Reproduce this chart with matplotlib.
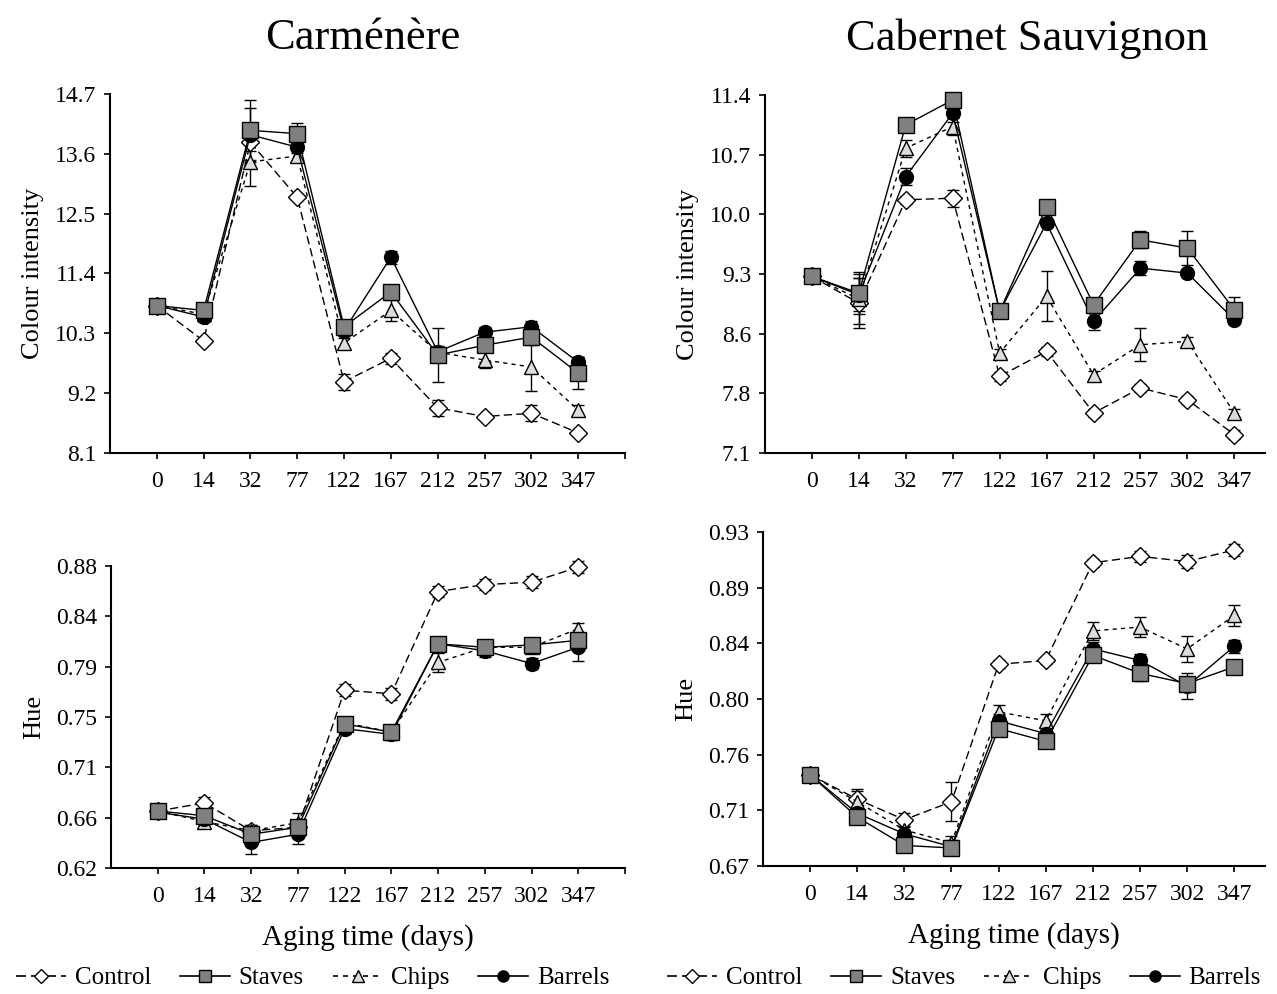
import matplotlib.pyplot as plt
from matplotlib.lines import Line2D
import numpy as np

plt.rcParams['font.family'] = ['Liberation Serif', 'DejaVu Serif']

days = ['0', '14', '32', '77', '122', '167', '212', '257', '302', '347']
series = ['Control', 'Staves', 'Chips', 'Barrels']

# Carmenere - colour intensity
ci_carm_control = [10.81, 10.16, 13.81, 12.80, 9.41, 9.84, 8.93, 8.77, 8.83, 8.47]
ci_carm_staves = [10.81, 10.72, 14.03, 13.97, 10.42, 11.06, 9.90, 10.08, 10.23, 9.57]
ci_carm_chips = [10.81, 10.65, 13.45, 13.56, 10.12, 10.72, 9.95, 9.81, 9.68, 8.89]
ci_carm_barrels = [10.81, 10.60, 13.95, 13.72, 10.35, 11.70, 9.96, 10.32, 10.42, 9.77]
ci_carm_control_err = [0.05, 0.05, 0.15, 0.05, 0.15, 0.10, 0.15, 0.05, 0.15, 0.05]
ci_carm_staves_err = [0.05, 0.10, 0.55, 0.20, 0.10, 0.10, 0.50, 0.30, 0.15, 0.30]
ci_carm_chips_err = [0.05, 0.10, 0.45, 0.10, 0.10, 0.20, 0.10, 0.15, 0.45, 0.10]
ci_carm_barrels_err = [0.05, 0.10, 0.50, 0.10, 0.10, 0.12, 0.10, 0.10, 0.10, 0.10]

# Cabernet Sauvignon - colour intensity
ci_cab_control = [9.22, 8.90, 10.14, 10.16, 8.02, 8.32, 7.58, 7.88, 7.74, 7.32]
ci_cab_staves = [9.22, 9.02, 11.04, 11.34, 8.80, 10.06, 8.88, 9.66, 9.56, 8.82]
ci_cab_chips = [9.22, 8.95, 10.76, 11.02, 8.30, 8.98, 8.04, 8.40, 8.44, 7.58]
ci_cab_barrels = [9.22, 9.00, 10.42, 11.18, 8.80, 9.86, 8.68, 9.32, 9.26, 8.70]
ci_cab_control_err = [0.03, 0.30, 0.05, 0.10, 0.05, 0.05, 0.05, 0.05, 0.05, 0.05]
ci_cab_staves_err = [0.03, 0.25, 0.05, 0.05, 0.05, 0.05, 0.05, 0.10, 0.20, 0.15]
ci_cab_chips_err = [0.03, 0.30, 0.10, 0.10, 0.05, 0.30, 0.05, 0.20, 0.05, 0.05]
ci_cab_barrels_err = [0.03, 0.20, 0.10, 0.10, 0.05, 0.05, 0.10, 0.08, 0.05, 0.05]

# Carmenere - hue
hue_carm_control = [0.669, 0.676, 0.652, 0.655, 0.773, 0.770, 0.858, 0.864, 0.866, 0.879]
hue_carm_staves = [0.669, 0.665, 0.649, 0.655, 0.744, 0.737, 0.813, 0.810, 0.812, 0.816]
hue_carm_chips = [0.669, 0.660, 0.652, 0.659, 0.745, 0.737, 0.797, 0.810, 0.810, 0.826]
hue_carm_barrels = [0.668, 0.662, 0.642, 0.649, 0.740, 0.735, 0.813, 0.807, 0.796, 0.810]
hue_carm_control_err = [0.003, 0.005, 0.005, 0.005, 0.005, 0.005, 0.005, 0.005, 0.005, 0.005]
hue_carm_staves_err = [0.003, 0.005, 0.005, 0.005, 0.005, 0.005, 0.005, 0.005, 0.005, 0.005]
hue_carm_chips_err = [0.003, 0.005, 0.005, 0.008, 0.005, 0.005, 0.008, 0.005, 0.005, 0.005]
hue_carm_barrels_err = [0.003, 0.006, 0.010, 0.008, 0.005, 0.005, 0.005, 0.005, 0.005, 0.012]

# Cabernet Sauvignon - hue
hue_cab_control = [0.741, 0.722, 0.706, 0.720, 0.827, 0.830, 0.906, 0.911, 0.907, 0.916]
hue_cab_staves = [0.741, 0.708, 0.686, 0.684, 0.777, 0.767, 0.834, 0.820, 0.812, 0.825]
hue_cab_chips = [0.741, 0.720, 0.698, 0.688, 0.790, 0.783, 0.853, 0.856, 0.839, 0.865]
hue_cab_barrels = [0.741, 0.711, 0.695, 0.685, 0.783, 0.773, 0.839, 0.830, 0.810, 0.841]
hue_cab_control_err = [0.003, 0.008, 0.005, 0.015, 0.003, 0.003, 0.003, 0.004, 0.005, 0.005]
hue_cab_staves_err = [0.003, 0.005, 0.005, 0.005, 0.005, 0.005, 0.005, 0.006, 0.005, 0.005]
hue_cab_chips_err = [0.003, 0.008, 0.005, 0.005, 0.005, 0.005, 0.007, 0.008, 0.010, 0.008]
hue_cab_barrels_err = [0.003, 0.005, 0.005, 0.005, 0.005, 0.005, 0.005, 0.005, 0.010, 0.005]

ci_carm_ticks = ['8.1', '9.2', '10.3', '11.4', '12.5', '13.6', '14.7']
ci_cab_ticks = ['7.1', '7.8', '8.6', '9.3', '10.0', '10.7', '11.4']
hue_carm_ticks = ['0.62', '0.66', '0.71', '0.75', '0.79', '0.84', '0.88']
hue_cab_ticks = ['0.67', '0.71', '0.76', '0.80', '0.84', '0.89', '0.93']

styles = {
    'Control': dict(marker='D', mfc='white', ls=(0, (6, 3)), ms=9),
    'Chips': dict(marker='^', mfc='#dcdcdc', ls=(0, (3, 3)), ms=10),
    'Barrels': dict(marker='o', mfc='black', ls='-', ms=10),
    'Staves': dict(marker='s', mfc='#808080', ls='-', ms=11),
}
draw_order = ['Control', 'Chips', 'Barrels', 'Staves']


def draw_panel(ax, data, errs, ticks, title=None, title_x=0.5, ylabel=None,
               xlabel=None, xmax=10, end_tick=True):
    x = np.arange(len(days))
    for name in draw_order:
        st = styles[name]
        ax.errorbar(x, data[name], yerr=errs[name], color='black', lw=1.0,
                    ls=st['ls'], marker=st['marker'], mfc=st['mfc'], mec='black',
                    ms=st['ms'], mew=1.0, capsize=4.5, elinewidth=1.0, capthick=1.0,
                    clip_on=False)
    lo, hi = float(ticks[0]), float(ticks[-1])
    ax.set_ylim(lo, hi)
    ax.set_yticks(np.linspace(lo, hi, len(ticks)))
    ax.set_yticklabels(ticks)
    if end_tick:
        ax.set_xticks(list(x) + [10])
        ax.set_xticklabels(days + [''])
    else:
        ax.set_xticks(x)
        ax.set_xticklabels(days)
    ax.set_xlim(-1, xmax)
    for s in ['top', 'right']:
        ax.spines[s].set_visible(False)
    ax.spines['left'].set_linewidth(1.5)
    ax.spines['bottom'].set_linewidth(1.5)
    ax.tick_params(axis='both', direction='out', length=4, width=1.2,
                   labelsize=17)
    ax.tick_params(axis='y', pad=6)
    ax.tick_params(axis='x', pad=9)
    if title:
        ax.set_title(title, fontsize=32, pad=32, x=title_x)
    if ylabel:
        ax.set_ylabel(ylabel, fontsize=19, labelpad=8)
    if xlabel:
        ax.set_xlabel(xlabel, fontsize=21, labelpad=12)


fig = plt.figure(figsize=(12.77, 9.94), dpi=100)
ax1 = fig.add_axes([0.0861, 0.5443, 0.4033, 0.3612])
ax2 = fig.add_axes([0.599, 0.5443, 0.3915, 0.3602])
ax3 = fig.add_axes([0.0869, 0.1268, 0.4025, 0.3038])
ax4 = fig.add_axes([0.5975, 0.1288, 0.393, 0.336])

draw_panel(ax1,
           {'Control': ci_carm_control, 'Staves': ci_carm_staves,
            'Chips': ci_carm_chips, 'Barrels': ci_carm_barrels},
           {'Control': ci_carm_control_err, 'Staves': ci_carm_staves_err,
            'Chips': ci_carm_chips_err, 'Barrels': ci_carm_barrels_err},
           ci_carm_ticks, title='Carménère', title_x=0.49, ylabel='Colour intensity')
draw_panel(ax2,
           {'Control': ci_cab_control, 'Staves': ci_cab_staves,
            'Chips': ci_cab_chips, 'Barrels': ci_cab_barrels},
           {'Control': ci_cab_control_err, 'Staves': ci_cab_staves_err,
            'Chips': ci_cab_chips_err, 'Barrels': ci_cab_barrels_err},
           ci_cab_ticks, title='Cabernet Sauvignon', title_x=0.524,
           ylabel='Colour intensity', xmax=9.65, end_tick=False)
draw_panel(ax3,
           {'Control': hue_carm_control, 'Staves': hue_carm_staves,
            'Chips': hue_carm_chips, 'Barrels': hue_carm_barrels},
           {'Control': hue_carm_control_err, 'Staves': hue_carm_staves_err,
            'Chips': hue_carm_chips_err, 'Barrels': hue_carm_barrels_err},
           hue_carm_ticks, ylabel='Hue', xlabel='Aging time (days)')
draw_panel(ax4,
           {'Control': hue_cab_control, 'Staves': hue_cab_staves,
            'Chips': hue_cab_chips, 'Barrels': hue_cab_barrels},
           {'Control': hue_cab_control_err, 'Staves': hue_cab_staves_err,
            'Chips': hue_cab_chips_err, 'Barrels': hue_cab_barrels_err},
           hue_cab_ticks, ylabel='Hue', xlabel='Aging time (days)', xmax=9.65,
           end_tick=False)

# legends below each column
handles = [Line2D([], [], color='black', lw=1.2, ls=styles[n]['ls'],
                  marker=styles[n]['marker'], mfc=styles[n]['mfc'], mec='black',
                  ms=styles[n]['ms'] * 0.8) for n in series]
for xc in [0.245, 0.755]:
    fig.legend(handles, series, loc='center', bbox_to_anchor=(xc, 0.016), ncol=4,
               frameon=False, fontsize=18, handlelength=2.0, handletextpad=0.35,
               columnspacing=1.15, borderpad=0.1)

fig.savefig('out.png', dpi=100)
